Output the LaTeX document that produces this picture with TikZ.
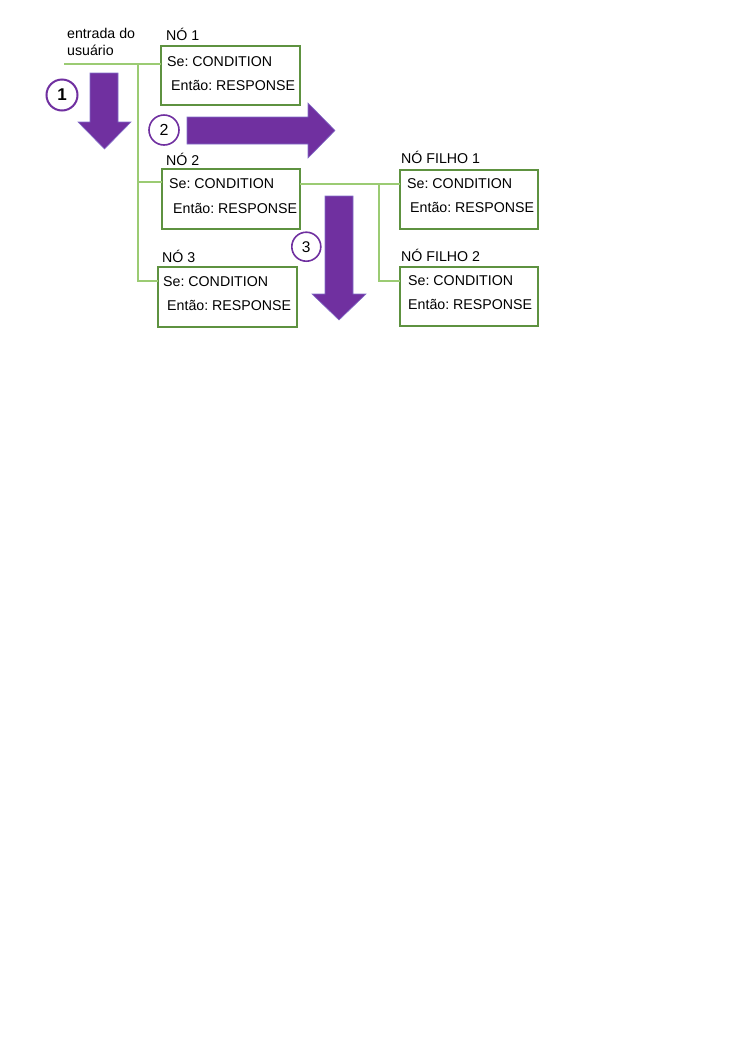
\documentclass[tikz,border=0pt]{standalone}
\usepackage{fontspec}
\setmainfont{Liberation Sans}
\frenchspacing
\definecolor{boxgreen}{RGB}{94,146,64}
\definecolor{linegreen}{RGB}{155,203,115}
\definecolor{arrowpurple}{RGB}{112,48,160}
\definecolor{arrowedge}{RGB}{130,110,200}
\begin{document}
\begin{tikzpicture}[x=1pt,y=-1pt,
  box/.style={draw=boxgreen,line width=1.3pt,inner sep=0pt,outer sep=0pt,anchor=north west},
  txt/.style={font=\fontsize{14.2}{17}\selectfont,inner sep=0pt,anchor=west,text height=10.2pt,text depth=0pt},
  link/.style={draw=linegreen,line width=1.3pt},
  bigarrow/.style={fill=arrowpurple,draw=arrowedge,line width=0.6pt},
  num/.style={circle,draw=arrowpurple,line width=1.6pt,minimum size=30pt,inner sep=0pt,fill=white,font=\fontsize{16}{16}\selectfont}]
\useasboundingbox (0,0) rectangle (745,1053);

% input text
\node[font=\fontsize{14.2}{17}\selectfont,inner sep=0pt,anchor=north west,align=left] (inp) at (67,27.8) {entrada do\\usuário};

% boxes
\node[box,minimum width=139pt,minimum height=59pt] (n1) at (161,46) {};
\node[box,minimum width=138pt,minimum height=60pt] (n2) at (162,169) {};
\node[box,minimum width=139pt,minimum height=60pt] (n3) at (158,267) {};
\node[box,minimum width=138pt,minimum height=59pt] (f1) at (400,170) {};
\node[box,minimum width=138pt,minimum height=59pt] (f2) at (400,267) {};

% labels
\node[txt] (l1) at (166,35) {NÓ 1};
\node[txt] (l2) at (166,160) {NÓ 2};
\node[txt] (l3) at (162,257) {NÓ 3};
\node[txt] (lf1) at (401,158) {NÓ FILHO 1};
\node[txt] (lf2) at (401,256) {NÓ FILHO 2};

% box texts
\node[txt] (s1) at (167,61.5) {Se: CONDITION};
\node[txt] (r1) at (171,85) {Então: RESPONSE};
\node[txt] (s2) at (169,183) {Se: CONDITION};
\node[txt] (r2) at (173,208) {Então: RESPONSE};
\node[txt] (s3) at (163,281) {Se: CONDITION};
\node[txt] (r3) at (167,305) {Então: RESPONSE};
\node[txt] (s4) at (407,183) {Se: CONDITION};
\node[txt] (r4) at (410,207) {Então: RESPONSE};
\node[txt] (s5) at (408,280) {Se: CONDITION};
\node[txt] (r5) at (408,304) {Então: RESPONSE};

% connectors
\coordinate (in) at (64,64);
\coordinate (j0) at (138,64);
\coordinate (j2) at (138,182);
\coordinate (j3) at (138,281);
\coordinate (k1) at (379,184);
\coordinate (k2) at (379,281);
\draw[link] (in) -- (in -| n1.west);
\draw[link] (j0) -- (j3) -- (j3 -| n3.west);
\draw[link] (j2) -- (j2 -| n2.west);
\draw[link] (k1 -| n2.east) -- (k1 -| f1.west);
\draw[link] (k1) -- (k2) -- (k2 -| f2.west);

% big arrows
\draw[bigarrow] (90,73) -- (118,73) -- (118,122) -- (131,122) -- (104.5,149) -- (78,122) -- (90,122) -- cycle;
\draw[bigarrow] (187,117) -- (308,117) -- (308,103) -- (335,130.5) -- (308,158) -- (308,144) -- (187,144) -- cycle;
\draw[bigarrow] (325,196) -- (353,196) -- (353,294) -- (366,294) -- (339,320) -- (312,294) -- (325,294) -- cycle;

% numbered circles
\node[num,line width=2pt,minimum size=31pt,font=\fontsize{17}{17}\selectfont\bfseries] (c1) at (62,95) {1};
\node[num] (c2) at (164,130) {2};
\node[num,minimum size=29pt,font=\fontsize{15.5}{15.5}\selectfont] (c3) at (306.3,246.7) {3};
\end{tikzpicture}
\end{document}
